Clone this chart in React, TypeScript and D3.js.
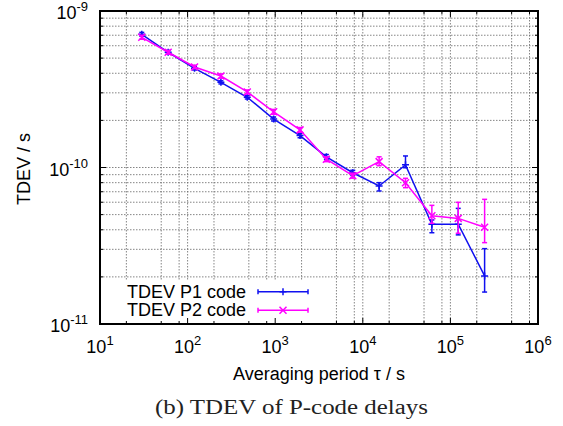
import { scaleLog, line } from "d3";

const tau = [30, 60, 120, 240, 480, 960, 1920, 3840, 7680, 15360, 30720, 61440, 122880, 245760];

const p1 = [7.1e-10, 5.45e-10, 4.3e-10, 3.5e-10, 2.81e-10, 2.04e-10, 1.6e-10, 1.17e-10, 9.26e-11, 7.62e-11, 1.04e-10, 4.34e-11, 4.34e-11, 2.03e-11];
const p1Lo = [6.9e-10, 5.3e-10, 4.2e-10, 3.42e-10, 2.74e-10, 1.98e-10, 1.55e-10, 1.13e-10, 8.9e-11, 7.08e-11, 9.97e-11, 3.83e-11, 3.71e-11, 1.6e-11];
const p1Hi = [7.3e-10, 5.6e-10, 4.4e-10, 3.58e-10, 2.88e-10, 2.1e-10, 1.65e-10, 1.21e-10, 9.6e-11, 8.0e-11, 1.185e-10, 4.62e-11, 5.48e-11, 3.03e-11];

const p2 = [6.79e-10, 5.45e-10, 4.39e-10, 3.84e-10, 3.04e-10, 2.27e-10, 1.74e-10, 1.13e-10, 8.86e-11, 1.09e-10, 8.0e-11, 4.92e-11, 4.73e-11, 4.15e-11];
const p2Lo = [6.6e-10, 5.3e-10, 4.28e-10, 3.72e-10, 2.95e-10, 2.19e-10, 1.68e-10, 1.09e-10, 8.55e-11, 1.027e-10, 7.43e-11, 4.4e-11, 3.8e-11, 3.31e-11];
const p2Hi = [7.0e-10, 5.6e-10, 4.5e-10, 3.96e-10, 3.13e-10, 2.35e-10, 1.8e-10, 1.17e-10, 9.2e-11, 1.17e-10, 8.53e-11, 5.73e-11, 5.99e-11, 6.26e-11];

const xDecades = [1, 2, 3, 4, 5, 6];
const xMinor = [2, 5, 8];
const yDecades = [-11, -10, -9];
const yMinor = [2, 3, 4, 5, 6, 7, 8, 9];

const series = [
  { name: "TDEV P1 code", color: "#1010f0", mark: "plus", v: p1, lo: p1Lo, hi: p1Hi },
  { name: "TDEV P2 code", color: "#ff00ff", mark: "cross", v: p2, lo: p2Lo, hi: p2Hi },
];

const W = 563;
const H = 426;
const L = 100, R = 538, T = 11, B = 324;
const font = "'Liberation Sans', Arial, Helvetica, sans-serif";

const Marker = ({ x, y, kind, color }: any) => {
  const s = 3.5;
  return kind === "plus" ? (
    <path d={`M${x - s},${y}H${x + s}M${x},${y - s}V${y + s}`} stroke={color} strokeWidth={1.5} />
  ) : (
    <path d={`M${x - s},${y - s}L${x + s},${y + s}M${x - s},${y + s}L${x + s},${y - s}`} stroke={color} strokeWidth={1.5} />
  );
};

export default function App() {
  const x = scaleLog().domain([10, 1e6]).range([L, R]);
  const y = scaleLog().domain([1e-11, 1e-9]).range([B, T]);

  const xMajors = xDecades.map((d) => Math.pow(10, d));
  const xMinors = xDecades.slice(0, -1).flatMap((d) => xMinor.map((m) => m * Math.pow(10, d)));
  const yMajors = yDecades.map((d) => Math.pow(10, d));
  const yMinors = yDecades.slice(0, -1).flatMap((d) => yMinor.map((m) => m * Math.pow(10, d)));

  const grid = { stroke: "#666", strokeWidth: 0.8, strokeDasharray: "1.5 1.5" };
  const path = line<number>().x((_, i) => x(tau[i])).y((d) => y(d));

  return (
    <svg width={W} height={H} style={{ position: "absolute", left: 0, top: 0, background: "#fff" }} fontFamily={font}>
      {/* grid */}
      {[...xMajors.slice(1, -1), ...xMinors].map((v) => (
        <line key={"gx" + v} x1={x(v)} x2={x(v)} y1={T} y2={B} {...grid} />
      ))}
      {[...yMajors.slice(1, -1), ...yMinors.filter((v) => v > 1e-11)].map((v) => (
        <line key={"gy" + v} x1={L} x2={R} y1={y(v)} y2={y(v)} {...grid} />
      ))}

      {/* key background */}
      <rect x={L + 1} y={280} width={216} height={B - 281} fill="#fff" />

      {/* data */}
      {series.map((s) => (
        <g key={s.name}>
          <path d={path(s.v) ?? ""} fill="none" stroke={s.color} strokeWidth={1.5} />
          {s.v.map((v, i) => {
            const cx = x(tau[i]);
            return (
              <g key={i} stroke={s.color} strokeWidth={1.5}>
                <line x1={cx} x2={cx} y1={y(s.lo[i])} y2={y(s.hi[i])} />
                <line x1={cx - 2.5} x2={cx + 2.5} y1={y(s.lo[i])} y2={y(s.lo[i])} />
                <line x1={cx - 2.5} x2={cx + 2.5} y1={y(s.hi[i])} y2={y(s.hi[i])} />
                <Marker x={cx} y={y(v)} kind={s.mark} color={s.color} />
              </g>
            );
          })}
        </g>
      ))}

      {/* key */}
      {series.map((s, i) => {
        const ky = 291.7 + i * 18.6;
        return (
          <g key={"k" + s.name}>
            <text x={246} y={ky + 6} textAnchor="end" fontSize={18} fill="#000">
              {s.name}
            </text>
            <g stroke={s.color} strokeWidth={1.5}>
              <line x1={258} x2={308} y1={ky} y2={ky} />
              <line x1={258} x2={258} y1={ky - 2.5} y2={ky + 2.5} />
              <line x1={308} x2={308} y1={ky - 2.5} y2={ky + 2.5} />
            </g>
            <Marker x={283} y={ky} kind={s.mark} color={s.color} />
          </g>
        );
      })}

      {/* ticks */}
      <g stroke="#000" strokeWidth={1}>
        {xMajors.map((v) => (
          <g key={"tx" + v}>
            <line x1={x(v)} x2={x(v)} y1={B} y2={B - 6} />
            <line x1={x(v)} x2={x(v)} y1={T} y2={T + 6} />
          </g>
        ))}
        {xMinors.map((v) => (
          <g key={"mx" + v}>
            <line x1={x(v)} x2={x(v)} y1={B} y2={B - 3} />
            <line x1={x(v)} x2={x(v)} y1={T} y2={T + 3} />
          </g>
        ))}
        {yMajors.map((v) => (
          <g key={"ty" + v}>
            <line x1={L} x2={L + 6} y1={y(v)} y2={y(v)} />
            <line x1={R} x2={R - 6} y1={y(v)} y2={y(v)} />
          </g>
        ))}
        {yMinors.map((v) => (
          <g key={"my" + v}>
            <line x1={L} x2={L + 3} y1={y(v)} y2={y(v)} />
            <line x1={R} x2={R - 3} y1={y(v)} y2={y(v)} />
          </g>
        ))}
      </g>
      <rect x={L} y={T} width={R - L} height={B - T} fill="none" stroke="#000" strokeWidth={2} />

      {/* tick labels */}
      {xDecades.map((d) => (
        <text key={"lx" + d} x={x(Math.pow(10, d))} y={353} textAnchor="middle" fontSize={18} fill="#000">
          10<tspan dy={-8} fontSize={13}>{d}</tspan>
        </text>
      ))}
      {yDecades.map((d) => (
        <text key={"ly" + d} x={88} y={y(Math.pow(10, d)) + 8} textAnchor="end" fontSize={18} fill="#000">
          10<tspan dy={-8} fontSize={13}>{d}</tspan>
        </text>
      ))}

      {/* titles */}
      <text x={319} y={380} textAnchor="middle" fontSize={18} fill="#000">
        Averaging period τ / s
      </text>
      <text transform="translate(29.5,169) rotate(-90)" textAnchor="middle" fontSize={18} fill="#000">
        TDEV / s
      </text>
      <text
        x={155}
        y={414}
        fontSize={20.5}
        fill="#222"
        fontFamily="'Liberation Serif', 'Times New Roman', serif"
        textLength={273}
        lengthAdjust="spacingAndGlyphs"
      >
        (b) TDEV of P-code delays
      </text>
    </svg>
  );
}
